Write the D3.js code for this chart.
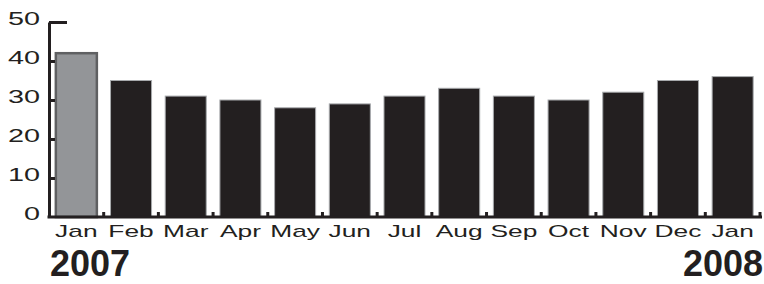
<!DOCTYPE html>
<html>
<head>
<meta charset="utf-8">
<script src="https://cdn.jsdelivr.net/npm/d3@7"></script>
<style>
  body { margin: 0; background: #fff; }
  svg { display: block; }
  text { font-family: "Liberation Sans", Arial, sans-serif; fill: #231f20; }
</style>
</head>
<body>
<svg id="chart" width="764" height="284"></svg>
<script>
// months along the bottom, Jan 2007 .. Jan 2008
const months = ['Jan', 'Feb', 'Mar', 'Apr', 'May', 'Jun', 'Jul', 'Aug', 'Sep', 'Oct', 'Nov', 'Dec', 'Jan']
const values = [42, 35, 31, 30, 28, 29, 31, 33, 31, 30, 32, 35, 36]
const yTicks = [0, 10, 20, 30, 40, 50]
const years = ['2007', '2008']

const svg = d3.select('#chart')
const plotLeft = 49, plotRight = 760, plotTop = 22, plotBottom = 217

// the labels in the original are wide, stretch them sideways
function widen(factor) {
  return function () {
    const w = this.getComputedTextLength()
    d3.select(this).attr('textLength', w * factor).attr('lengthAdjust', 'spacingAndGlyphs')
  }
}

// x scale (use index so the two Jans are separate)
const xscale = d3.scaleBand()
  .domain(months.map((d, i) => i))
  .range([plotLeft, plotRight])
  .paddingInner(0.25)
  .paddingOuter(0.125)

// y scale
const yscale = d3.scaleLinear()
  .domain([0, 50])
  .range([plotBottom, plotTop])

// bars
svg.append('g')
  .selectAll('rect')
  .data(values)
  .enter()
  .append('rect')
  .attr('x', (d, i) => xscale(i))
  .attr('y', d => yscale(d))
  .attr('width', xscale.bandwidth())
  .attr('height', d => plotBottom - yscale(d))
  .attr('fill', (d, i) => i === 0 ? '#939598' : '#231f20')
  .attr('stroke', (d, i) => i === 0 ? '#5f6062' : '#a7a9ac')
  .attr('stroke-width', (d, i) => i === 0 ? 2.5 : 1)

// y axis
const yAxis = d3.axisLeft(yscale)
  .tickValues(yTicks)
  .tickSize(-6)
  .tickPadding(12)
  .tickSizeOuter(0)
const yg = svg.append('g')
  .attr('transform', `translate(${plotLeft}, 0)`)
  .call(yAxis)
yg.select('.domain').attr('stroke', '#231f20').attr('stroke-width', 3)
yg.selectAll('.tick line').attr('stroke', '#231f20').attr('stroke-width', 3)
yg.selectAll('.tick')
  .filter(d => d === 50)
  .select('line')
  .attr('x2', 18)
yg.selectAll('.tick')
  .filter(d => d === 0)
  .select('line')
  .remove()
yg.selectAll('.tick text')
  .attr('font-size', 18)
  .attr('x', -9)
  .attr('dy', '0.12em')
  .attr('text-anchor', 'end')
  .attr('fill', '#231f20')
  .each(widen(1.6))

// x axis line
svg.append('line')
  .attr('x1', plotLeft - 1.5)
  .attr('x2', plotRight + 2)
  .attr('y1', plotBottom)
  .attr('y2', plotBottom)
  .attr('stroke', '#231f20')
  .attr('stroke-width', 3)

// little ticks between bars
const step = xscale.step()
svg.append('g')
  .selectAll('line')
  .data(months.map((d, i) => i))
  .enter()
  .append('line')
  .attr('x1', i => xscale(i) + xscale.bandwidth() + (step - xscale.bandwidth()) / 2)
  .attr('x2', i => xscale(i) + xscale.bandwidth() + (step - xscale.bandwidth()) / 2)
  .attr('y1', plotBottom)
  .attr('y2', plotBottom - 5)
  .attr('stroke', '#231f20')
  .attr('stroke-width', 3)

// month labels
svg.append('g')
  .selectAll('text')
  .data(months)
  .enter()
  .append('text')
  .attr('x', (d, i) => xscale(i) + xscale.bandwidth() / 2)
  .attr('y', 237)
  .attr('text-anchor', 'middle')
  .attr('font-size', 17)
  .text(d => d)
  .each(widen(1.55))

// years
svg.append('text')
  .attr('x', 50)
  .attr('y', 276)
  .attr('font-size', 36)
  .attr('font-weight', 'bold')
  .attr('fill', '#000')
  .text(years[0])
svg.append('text')
  .attr('x', 763)
  .attr('y', 276)
  .attr('text-anchor', 'end')
  .attr('font-size', 36)
  .attr('font-weight', 'bold')
  .attr('fill', '#000')
  .text(years[1])
</script>
</body>
</html>
